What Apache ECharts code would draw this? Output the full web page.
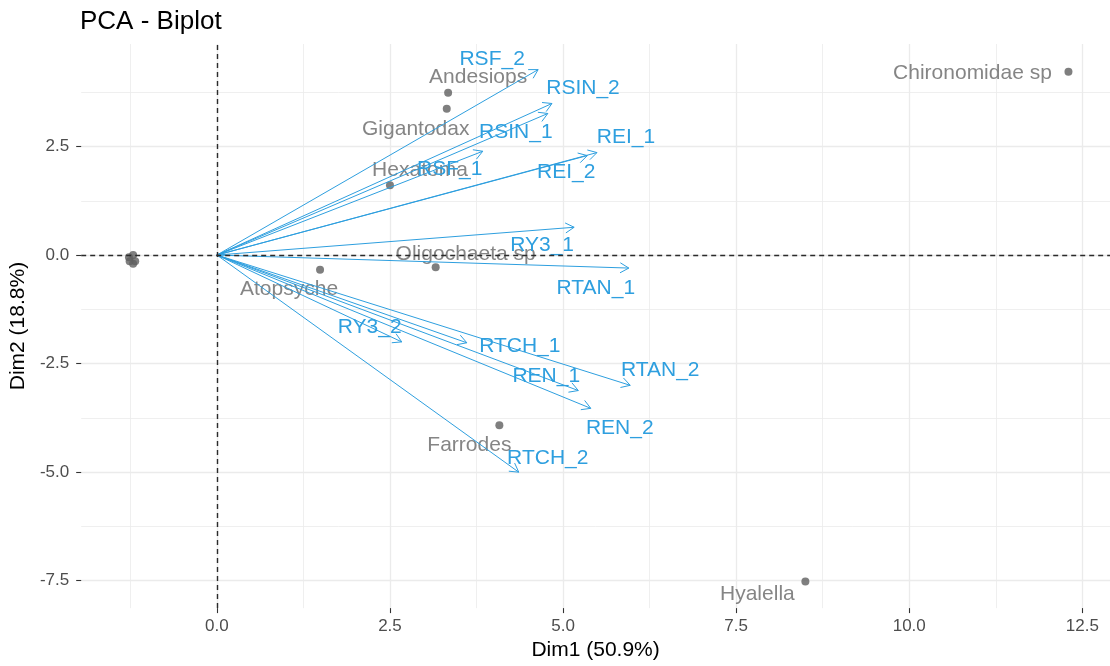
<!DOCTYPE html>
<html>
<head>
<meta charset="utf-8">
<script src="https://cdn.jsdelivr.net/npm/echarts@6/dist/echarts.min.js"></script>
<style>
  html, body { margin: 0; padding: 0; background: #ffffff; }
  #chart { width: 1110px; height: 666px; }
</style>
</head>
<body>
<div id="chart"></div>
<script>
// ---- Data ----
const indNames = ['Chironomidae sp', 'Andesiops', 'Gigantodax', 'Hexatoma', 'Oligochaeta sp', 'Atopsyche', 'Farrodes', 'Hyalella', '', '', '', '', ''];
const indDim1  = [12.30, 3.34, 3.32, 2.50, 3.16, 1.49, 4.08, 8.50, -1.21, -1.26, -1.18, -1.21, -1.27];
const indDim2  = [4.22, 3.74, 3.37, 1.61, -0.28, -0.34, -3.92, -7.52, 0.00, -0.14, -0.14, -0.20, -0.05];

const varNames = ['RSF_2', 'RSIN_2', 'RSIN_1', 'RSF_1', 'REI_1', 'REI_2', 'RY3_1', 'RTAN_1', 'RY3_2', 'RTCH_1', 'REN_1', 'RTAN_2', 'REN_2', 'RTCH_2'];
const varDim1  = [4.64, 4.84, 4.78, 3.84, 5.49, 5.35, 5.16, 5.95, 2.67, 3.61, 5.22, 5.97, 5.40, 4.36];
const varDim2  = [4.27, 3.49, 3.26, 2.39, 2.36, 2.29, 0.64, -0.30, -2.00, -2.02, -3.12, -3.00, -3.53, -5.00];

const xTicks = [0, 2.5, 5, 7.5, 10, 12.5];
const yTicks = [-7.5, -5, -2.5, 0, 2.5];
const xMinorTicks = [-1.25, 1.25, 3.75, 6.25, 8.75, 11.25];
const yMinorTicks = [-6.25, -3.75, -1.25, 1.25, 3.75];

// ---- Layout / style (label offsets in pixels, not data) ----
const indLabelOffset = {
  'Chironomidae sp': [-96, 1], 'Andesiops': [30, -15], 'Gigantodax': [-31, 20], 'Hexatoma': [30, -15],
  'Oligochaeta sp': [30, -13], 'Atopsyche': [-31, 19], 'Farrodes': [-30, 20], 'Hyalella': [-48, 13]
};
const varLabelOffset = {
  'RSF_2': [-46, -10], 'RSIN_2': [31, -15], 'RSIN_1': [-32, 19], 'RSF_1': [-33, 18], 'REI_1': [29, -15],
  'REI_2': [-21, 17], 'RY3_1': [-32, 18], 'RTAN_1': [-33, 20], 'RY3_2': [-32, -15], 'RTCH_1': [53, 3],
  'REN_1': [-32, -14], 'RTAN_2': [30, -15], 'REN_2': [29, 20], 'RTCH_2': [29, -14]
};

const FONT = 'Liberation Sans, Arial, Helvetica, sans-serif';
const VAR_COLOR = '#2E9FDF';
const IND_COLOR = '#696969';
const GRID_COLOR = '#EBEBEB';

const X_MIN = -1.96, X_MAX = 12.9, Y_MIN = -8.13, Y_MAX = 4.86;

const indData = indNames.map((n, i) => ({
  name: n,
  value: [indDim1[i], indDim2[i]],
  label: n ? { show: true, offset: indLabelOffset[n] } : { show: false }
}));
const varData = varNames.map((n, i) => ({ name: n, value: [varDim1[i], varDim2[i]] }));

const fmt = v => Number(v).toFixed(1);

const chart = echarts.init(document.getElementById('chart'), null, { renderer: 'canvas' });
chart.setOption({
  backgroundColor: '#ffffff',
  animation: false,
  textStyle: { fontFamily: FONT },
  title: {
    text: 'PCA - Biplot', left: 80, top: 9, padding: 0,
    textStyle: { fontFamily: FONT, fontSize: 26, fontWeight: 'normal', color: '#000000' }
  },
  grid: { left: 81, right: 0, top: 44, bottom: 56, containLabel: false },
  xAxis: [{
    type: 'value', min: X_MIN, max: X_MAX,
    name: 'Dim1 (50.9%)', nameLocation: 'middle', nameGap: 29,
    nameTextStyle: { fontFamily: FONT, fontSize: 21, color: '#000000' },
    axisLine: { show: false, onZero: false },
    axisTick: { show: true, length: 5, customValues: xTicks, lineStyle: { color: '#333333', width: 1.1 } },
    axisLabel: { customValues: xTicks, formatter: fmt, fontFamily: FONT, fontSize: 17, color: '#4D4D4D', margin: 10 },
    splitLine: { show: true, lineStyle: { color: GRID_COLOR, width: 1.3 } }
  }, {
    type: 'value', min: X_MIN, max: X_MAX, position: 'top',
    axisLine: { show: false, onZero: false },
    axisTick: { show: false, customValues: xMinorTicks },
    axisLabel: { show: false, customValues: xMinorTicks },
    splitLine: { show: true, lineStyle: { color: GRID_COLOR, width: 0.8 } }
  }],
  yAxis: [{
    type: 'value', min: Y_MIN, max: Y_MAX,
    name: 'Dim2 (18.8%)', nameLocation: 'middle', nameGap: 42,
    nameTextStyle: { fontFamily: FONT, fontSize: 21, color: '#000000' },
    axisLine: { show: false, onZero: false },
    axisTick: { show: true, length: 5, customValues: yTicks, lineStyle: { color: '#333333', width: 1.1 } },
    axisLabel: { customValues: yTicks, formatter: fmt, fontFamily: FONT, fontSize: 17, color: '#4D4D4D', margin: 12 },
    splitLine: { show: true, lineStyle: { color: GRID_COLOR, width: 1.3 } }
  }, {
    type: 'value', min: Y_MIN, max: Y_MAX, position: 'right',
    axisLine: { show: false, onZero: false },
    axisTick: { show: false, customValues: yMinorTicks },
    axisLabel: { show: false, customValues: yMinorTicks },
    splitLine: { show: true, lineStyle: { color: GRID_COLOR, width: 0.8 } }
  }],
  series: [{
    type: 'scatter',
    name: 'individuals',
    xAxisIndex: 0, yAxisIndex: 0,
    symbol: 'circle', symbolSize: 8,
    itemStyle: { color: '#5F5F5F' },
    label: {
      show: true, position: 'inside', formatter: '{b}',
      fontFamily: FONT, fontSize: 21, color: '#666666'
    },
    data: indData,
    z: 3,
    markLine: {
      silent: true, symbol: 'none', animation: false,
      label: { show: false },
      lineStyle: { color: '#2b2b2b', type: [5, 4], width: 1.4 },
      data: [{ xAxis: 0 }, { yAxis: 0 }]
    }
  }, {
    type: 'custom',
    name: 'variables',
    xAxisIndex: 0, yAxisIndex: 0,
    z: 4,
    data: varData,
    renderItem: function (params, api) {
      const o = api.coord([0, 0]);
      const e = api.coord([api.value(0), api.value(1)]);
      const ang = Math.atan2(e[1] - o[1], e[0] - o[0]);
      const L = 10, A = Math.PI / 6;
      const h1 = [e[0] - L * Math.cos(ang - A), e[1] - L * Math.sin(ang - A)];
      const h2 = [e[0] - L * Math.cos(ang + A), e[1] - L * Math.sin(ang + A)];
      const name = varNames[params.dataIndex];
      const off = varLabelOffset[name] || [0, 0];
      return {
        type: 'group',
        children: [
          { type: 'line', shape: { x1: o[0], y1: o[1], x2: e[0], y2: e[1] }, style: { stroke: VAR_COLOR, lineWidth: 1 } },
          { type: 'polyline', shape: { points: [h1, e, h2] }, style: { stroke: VAR_COLOR, lineWidth: 1, fill: null } },
          { type: 'text', x: e[0] + off[0], y: e[1] + off[1],
            style: { text: name, fill: VAR_COLOR, font: '21px ' + FONT, align: 'center', verticalAlign: 'middle' } }
        ]
      };
    }
  }]
});
</script>
</body>
</html>
